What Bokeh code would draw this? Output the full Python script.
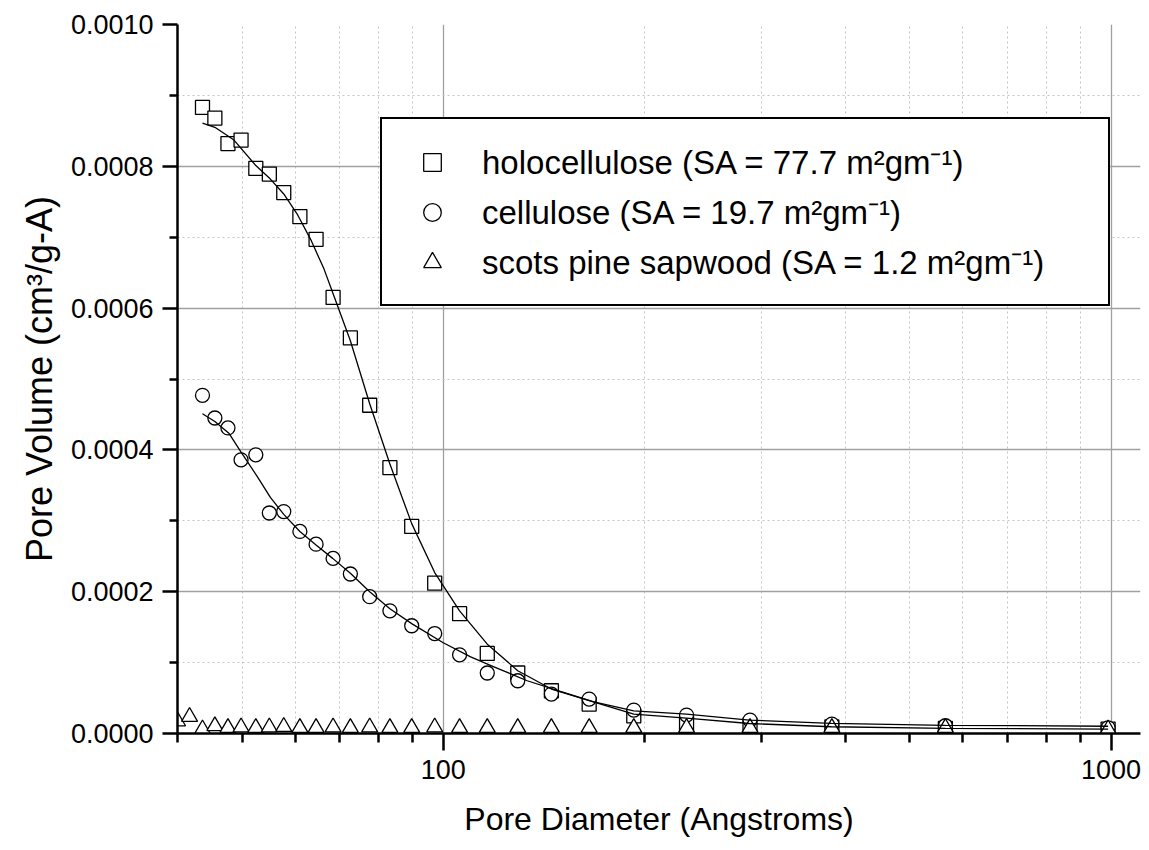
from bokeh.plotting import figure
from bokeh.models import FixedTicker, PrintfTickFormatter, Legend, LegendItem, Range1d
from bokeh.embed import file_html
from bokeh.resources import INLINE

FONT = "Liberation Sans"

# ---- data ----
diameter = [43.6, 45.5, 47.6, 49.8, 52.4, 54.9, 57.7, 61.0, 64.5, 68.4, 72.6, 77.6, 83.2,
            89.7, 97.1, 105.8, 116.4, 129.3, 145.2, 165.4, 192.9, 231.4, 288.0, 381.9, 564.9, 990.0]

holocellulose = [0.000883, 0.000868, 0.000832, 0.000837, 0.000797, 0.000789, 0.000763, 0.000729,
                 0.000697, 0.000615, 0.000558, 0.000463, 0.000375, 0.000292, 0.000212, 0.000169,
                 0.000113, 0.0000853, 0.0000603, 0.0000415, 0.000025, 0.0000141, 0.000012,
                 0.0000092, 0.0000072, 0.0000062]

cellulose = [0.000477, 0.000445, 0.000431, 0.000386, 0.000393, 0.000311, 0.000313, 0.000285,
             0.000267, 0.000247, 0.000225, 0.000193, 0.000173, 0.000152, 0.000141, 0.000111,
             0.0000853, 0.0000744, 0.0000556, 0.0000486, 0.000033, 0.000026, 0.0000189,
             0.0000133, 0.0000109, 0.000008]

pine_diameter = [40.0, 41.7] + diameter
pine = [0.0000174, 0.0000236,
        0.000006, 0.0000105, 0.000008, 0.0000088, 0.000008, 0.0000088, 0.0000095, 0.000008,
        0.000008, 0.0000088, 0.000008, 0.0000088, 0.000008, 0.000008, 0.0000088, 0.000008,
        0.000008, 0.000008, 0.000008, 0.000008, 0.000008, 0.000008, 0.000008, 0.000008,
        0.000008, 0.000006]

holo_fit_x = [43.6, 45.5, 48.6, 52.4, 55.1, 57.7, 60.4, 63.3, 66.3, 68.6, 72.6, 77.6, 83.2, 89.7,
              97.1, 105.8, 116.4, 129.3, 145.2, 165.4, 192.9, 231.3, 287.3, 381.3, 565.2, 990.0]
holo_fit_y = [0.000861, 0.000855, 0.000837, 0.000801, 0.000782, 0.000761, 0.000733, 0.000697,
              0.000655, 0.000617, 0.000554, 0.000465, 0.000380, 0.000296, 0.000227, 0.000173,
              0.000126, 0.0000885, 0.0000627, 0.0000462, 0.0000274, 0.0000217, 0.0000141,
              0.0000095, 0.0000073, 0.0000062]

cell_fit_x = [43.6, 45.5, 47.8, 49.8, 52.7, 55.1, 57.7, 61.0, 64.5, 68.3, 72.6, 77.6, 83.2, 89.7,
              100.0, 109.9, 119.1, 133.6, 149.8, 168.1, 192.9, 231.3, 287.3, 381.3, 565.2, 990.0]
cell_fit_y = [0.000451, 0.000440, 0.000423, 0.000397, 0.000362, 0.000333, 0.000309, 0.000285,
              0.000266, 0.000247, 0.000226, 0.000200, 0.000176, 0.000155, 0.000128, 0.000108,
              0.0000941, 0.0000744, 0.0000593, 0.0000447, 0.000032, 0.0000274, 0.0000189,
              0.0000144, 0.0000116, 0.0000102]

labels = ["holocellulose (SA = 77.7 m\u00b2gm\u207b\u00b9)",
          "cellulose (SA = 19.7 m\u00b2gm\u207b\u00b9)",
          "scots pine sapwood (SA = 1.2 m\u00b2gm\u207b\u00b9)"]

x_major = [100, 1000]
x_minor = [40, 50, 60, 70, 80, 90, 200, 300, 400, 500, 600, 700, 800, 900]
y_major = [0.0, 0.0002, 0.0004, 0.0006, 0.0008, 0.0010]
y_minor = [0.0001, 0.0003, 0.0005, 0.0007, 0.0009]

# ---- figure ----
p = figure(width=1149, height=850, x_axis_type="log",
           x_range=Range1d(40, 1107), y_range=Range1d(0, 0.001),
           output_backend="svg", toolbar_location=None,
           min_border_left=177, min_border_right=9, min_border_top=24, min_border_bottom=117)
p.outline_line_color = None
p.background_fill_color = "white"

p.xaxis.ticker = FixedTicker(ticks=x_major, minor_ticks=x_minor)
p.yaxis.ticker = FixedTicker(ticks=y_major, minor_ticks=y_minor)
p.xaxis.formatter = PrintfTickFormatter(format="%d")
p.yaxis.formatter = PrintfTickFormatter(format="%.4f")

p.xgrid.ticker = FixedTicker(ticks=x_major, minor_ticks=x_minor[1:])
p.ygrid.ticker = FixedTicker(ticks=y_major[1:-1], minor_ticks=y_minor)
for g in (p.xgrid, p.ygrid):
    g.grid_line_color = "#a0a0a0"
    g.grid_line_width = 1.3
    g.minor_grid_line_color = "#c4c4c4"
    g.minor_grid_line_width = 1
    g.minor_grid_line_dash = "2 3"

for ax in (p.xaxis, p.yaxis):
    ax.axis_line_color = "black"
    ax.axis_line_width = 2.5
    ax.major_tick_line_color = "black"
    ax.major_tick_line_width = 2.5
    ax.minor_tick_line_color = "black"
    ax.minor_tick_line_width = 2.5
    ax.major_tick_in = 0
    ax.minor_tick_in = 0
    ax.major_label_text_font = FONT
    ax.major_label_text_font_size = "27px"
    ax.major_label_text_color = "black"
    ax.axis_label_text_font = FONT
    ax.axis_label_text_font_style = "normal"
    ax.axis_label_text_color = "black"

p.xaxis.major_tick_out = 17
p.xaxis.minor_tick_out = 9
p.xaxis.major_label_standoff = 9
p.xaxis.axis_label_standoff = 19
p.xaxis.axis_label_text_font_size = "32px"
p.xaxis.axis_label = "Pore Diameter (Angstroms)"

p.yaxis.major_tick_out = 15
p.yaxis.minor_tick_out = 8
p.yaxis.major_label_standoff = 9
p.yaxis.axis_label_standoff = 8
p.yaxis.axis_label_text_font_size = "36px"
p.yaxis.axis_label = "Pore Volume (cm\u00b3/g-A)"

r_sq = p.scatter(diameter, holocellulose, marker="square", size=14,
                 fill_color="white", line_color="black", line_width=1.3)
r_ci = p.scatter(diameter, cellulose, marker="circle", size=14,
                 fill_color="white", line_color="black", line_width=1.3)
r_tr = p.scatter(pine_diameter, pine, marker="triangle", size=16,
                 fill_color="white", line_color="black", line_width=1.3)

p.line(holo_fit_x, holo_fit_y, line_color="black", line_width=1.3)
p.line(cell_fit_x, cell_fit_y, line_color="black", line_width=1.3)

legend = Legend(items=[LegendItem(label=labels[0], renderers=[r_sq]),
                       LegendItem(label=labels[1], renderers=[r_ci]),
                       LegendItem(label=labels[2], renderers=[r_tr])],
                location=(203, 427), padding=20, margin=0,
                glyph_width=60, glyph_height=44, label_height=44, spacing=5,
                label_standoff=20, label_width=606,
                border_line_color="black", border_line_width=2, border_line_alpha=1,
                background_fill_color="white", background_fill_alpha=1,
                label_text_font=FONT, label_text_font_size="33px",
                label_text_color="black")
p.add_layout(legend)

open("out.html", "w").write(file_html(p, INLINE))
